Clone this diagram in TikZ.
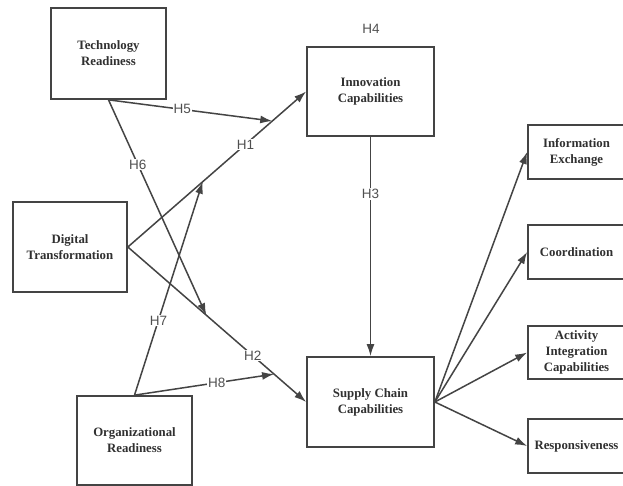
\documentclass[tikz,border=0pt]{standalone}
\usepackage{fontspec}
\setmainfont{Liberation Serif}
\setsansfont{Liberation Sans}
\usetikzlibrary{arrows.meta,calc}
\definecolor{boxline}{HTML}{444444}
\definecolor{boxtext}{HTML}{303030}
\definecolor{labtext}{HTML}{505050}
\begin{document}
\begin{tikzpicture}[x=1pt,y=-1pt,
  concept/.style={draw=boxline, line width=1.7pt, align=center, inner sep=0pt,
    font=\fontsize{12.8}{16}\selectfont\bfseries, text=boxtext},
  link/.style={draw=boxline, line width=1.5pt, -{Latex[length=12pt,width=8pt]}},
  hyp/.style={fill=white, inner sep=1pt, text=labtext, font=\fontsize{13.5}{14}\sffamily}]
\useasboundingbox (0,0) rectangle (623,486);
\fill[white] (0,0) rectangle (623,486);
% boxes
\node[concept, minimum width=115pt, minimum height=91pt] (tr) at (108.5,53.5) {Technology\\Readiness};
\node[concept, minimum width=114pt, minimum height=90pt] (dt) at (70,247) {Digital\\Transformation};
\node[concept, minimum width=115pt, minimum height=89pt] (or) at (134.5,440.5) {Organizational\\Readiness};
\node[concept, minimum width=127pt, minimum height=89pt] (ic) at (370.5,91.5) {Innovation\\Capabilities};
\node[concept, minimum width=127pt, minimum height=90pt] (sc) at (370.5,402) {Supply Chain\\Capabilities};
\node[concept, minimum width=97pt, minimum height=54pt] (ie) at (576.5,152) {Information\\Exchange};
\node[concept, minimum width=97pt, minimum height=54pt] (co) at (576.5,252) {Coordination};
\node[concept, minimum width=97pt, minimum height=53pt] (ai) at (576.5,352.5) {Activity\\Integration\\Capabilities};
\node[concept, minimum width=97pt, minimum height=54pt] (re) at (576.5,446) {Responsiveness};
\node[hyp, fill=none] (h4) at (371,29) {H4};
% points on the H1 and H2 lines
\coordinate (p5) at ($(dt.east)!0.81!(ic.west)$);
\coordinate (p7) at ($(dt.east)!0.42!(ic.west)$);
\coordinate (p6) at ($(dt.east)!0.44!(sc.west)$);
\coordinate (p8) at ($(dt.east)!0.82!(sc.west)$);
% connectors
\draw[link] (dt.east) -- node[hyp, pos=0.66] {H1} (ic.west);
\draw[link] (dt.east) -- node[hyp, pos=0.70] {H2} (sc.west);
\draw[link] (tr.south) -- node[hyp, pos=0.45] {H5} (p5);
\draw[link] (tr.south) -- node[hyp, pos=0.30] {H6} (p6);
\draw[link] (or.north) -- node[hyp, pos=0.35] {H7} (p7);
\draw[link] (or.north) -- node[hyp, pos=0.59] {H8} (p8);
\draw[link] (ic.south) -- node[hyp, pos=0.26] {H3} (sc.north);
\draw[link] (sc.east) -- (ie.west);
\draw[link] (sc.east) -- (co.west);
\draw[link] (sc.east) -- (ai.west);
\draw[link] (sc.east) -- (re.west);
\end{tikzpicture}
\end{document}
